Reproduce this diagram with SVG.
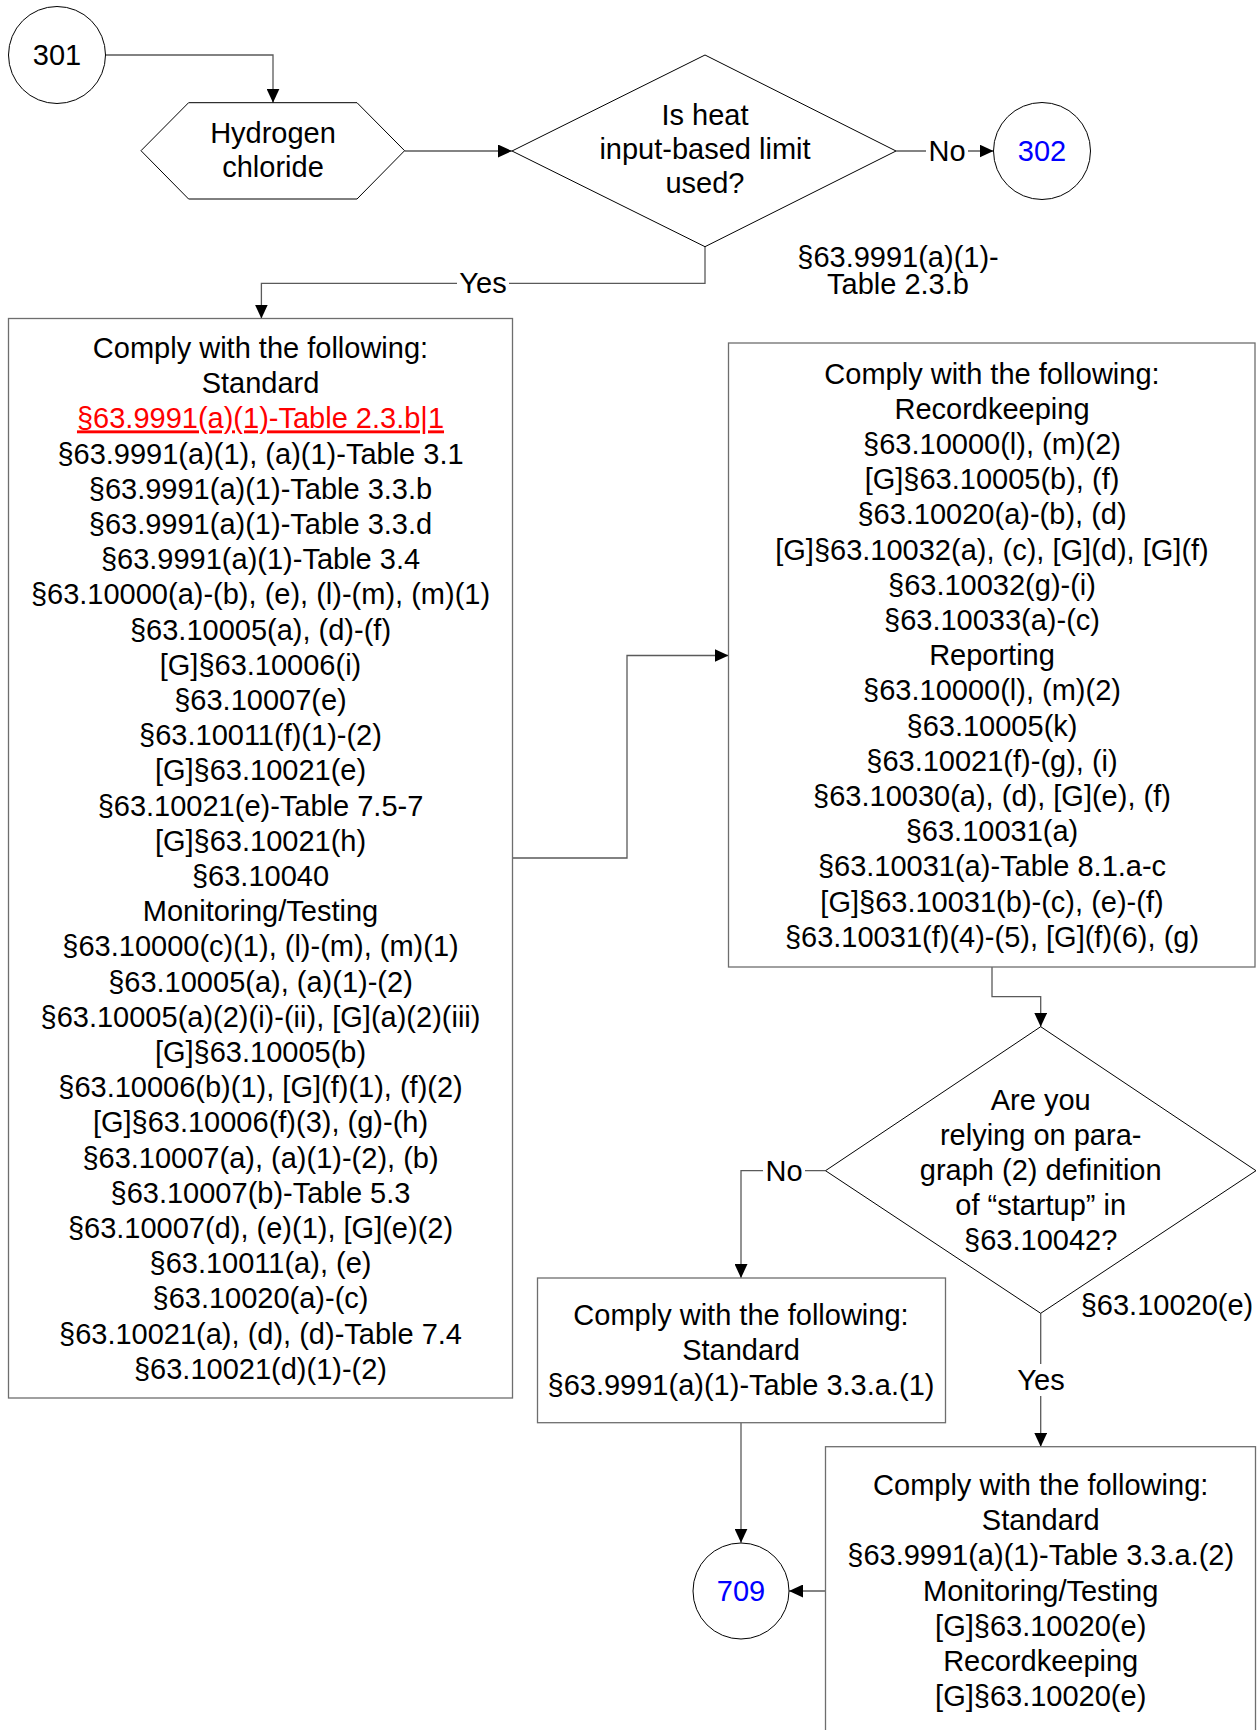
<svg xmlns="http://www.w3.org/2000/svg" width="1257" height="1730" viewBox="0 0 1257 1730">
<defs>
<marker id="arr" markerUnits="userSpaceOnUse" markerWidth="14" markerHeight="13" refX="14" refY="6.5" orient="auto">
<path d="M0,0 L14,6.5 L0,13 z" fill="#000"/>
</marker>
<style>
text{font-family:"Liberation Sans",Arial,sans-serif;font-size:29px;fill:#000;text-anchor:middle}
.shape{fill:#fff;stroke:#000;stroke-width:1}
.box{fill:#fff;stroke:#6e6e6e;stroke-width:1.3}
.conn{fill:none;stroke:#5a5a5a;stroke-width:1.3;marker-end:url(#arr)}
.lblbg{fill:#fff}
.blue{fill:#0000ff}
.red{fill:#ff0000;text-decoration:underline}
</style>
</defs>
<rect width="1257" height="1730" fill="#fff"/>

<g id="connectors">
<path class="conn" d="M105.5,55 H273 V102.7"/>
<path class="conn" d="M404.6,151 H512"/>
<path class="conn" d="M896,151 H993.5"/>
<path class="conn" d="M705,246.7 V283.3 H261.4 V318.5"/>
<path class="conn" d="M512.5,858 H627 V655.5 H728.5"/>
<path class="conn" d="M992,967 V996.7 H1040.7 V1026.7"/>
<path class="conn" d="M825.5,1170.7 H741 V1278"/>
<path class="conn" d="M1040.7,1313.3 V1446.7"/>
<path class="conn" d="M741,1422.7 V1542.7"/>
<path class="conn" d="M825.5,1591 H789"/>
<rect class="lblbg" x="926" y="136" width="42" height="30"/>
<text x="947" y="161">No</text>
<rect class="lblbg" x="457" y="268" width="52" height="30"/>
<text x="483" y="293">Yes</text>
<rect class="lblbg" x="763" y="1156" width="42" height="30"/>
<text x="784" y="1181">No</text>
<rect class="lblbg" x="1015" y="1364" width="52" height="32"/>
<text x="1041" y="1390">Yes</text>
</g>

<g id="n301">
<circle class="shape" cx="57" cy="55" r="48.5"/>
<text x="57" y="65">301</text>
</g>

<g id="hcl">
<polygon class="shape" points="141,150.7 188.6,102.7 357,102.7 404.6,150.7 357,199 188.6,199"/>
<text x="273" y="143">Hydrogen</text>
<text x="273" y="177">chloride</text>
</g>

<g id="q1">
<polygon class="shape" points="512,151 705,55 896,151 705,246.7"/>
<text x="705" y="125">Is heat</text>
<text x="705" y="159">input-based limit</text>
<text x="705" y="193">used?</text>
</g>

<g id="q1ref">
<text x="898" y="267">§63.9991(a)(1)-</text>
<text x="898" y="294">Table 2.3.b</text>
</g>

<g id="n302">
<circle class="shape" cx="1042" cy="151" r="48.5"/>
<text class="blue" x="1042" y="161">302</text>
</g>

<g id="box1">
<rect class="box" x="8.5" y="318.5" width="504" height="1079.5"/>
<text x="260.5" y="358">Comply with the following:</text>
<text x="260.5" y="393.2">Standard</text>
<text class="red" x="260.5" y="428.4">§63.9991(a)(1)-Table 2.3.b|1</text>
<text x="260.5" y="463.6">§63.9991(a)(1), (a)(1)-Table 3.1</text>
<text x="260.5" y="498.8">§63.9991(a)(1)-Table 3.3.b</text>
<text x="260.5" y="534">§63.9991(a)(1)-Table 3.3.d</text>
<text x="260.5" y="569.2">§63.9991(a)(1)-Table 3.4</text>
<text x="260.5" y="604.4">§63.10000(a)-(b), (e), (l)-(m), (m)(1)</text>
<text x="260.5" y="639.6">§63.10005(a), (d)-(f)</text>
<text x="260.5" y="674.8">[G]§63.10006(i)</text>
<text x="260.5" y="710">§63.10007(e)</text>
<text x="260.5" y="745.2">§63.10011(f)(1)-(2)</text>
<text x="260.5" y="780.4">[G]§63.10021(e)</text>
<text x="260.5" y="815.6">§63.10021(e)-Table 7.5-7</text>
<text x="260.5" y="850.8">[G]§63.10021(h)</text>
<text x="260.5" y="886">§63.10040</text>
<text x="260.5" y="921.2">Monitoring/Testing</text>
<text x="260.5" y="956.4">§63.10000(c)(1), (l)-(m), (m)(1)</text>
<text x="260.5" y="991.6">§63.10005(a), (a)(1)-(2)</text>
<text x="260.5" y="1026.8">§63.10005(a)(2)(i)-(ii), [G](a)(2)(iii)</text>
<text x="260.5" y="1062">[G]§63.10005(b)</text>
<text x="260.5" y="1097.2">§63.10006(b)(1), [G](f)(1), (f)(2)</text>
<text x="260.5" y="1132.4">[G]§63.10006(f)(3), (g)-(h)</text>
<text x="260.5" y="1167.6">§63.10007(a), (a)(1)-(2), (b)</text>
<text x="260.5" y="1202.8">§63.10007(b)-Table 5.3</text>
<text x="260.5" y="1238">§63.10007(d), (e)(1), [G](e)(2)</text>
<text x="260.5" y="1273.2">§63.10011(a), (e)</text>
<text x="260.5" y="1308.4">§63.10020(a)-(c)</text>
<text x="260.5" y="1343.6">§63.10021(a), (d), (d)-Table 7.4</text>
<text x="260.5" y="1378.8">§63.10021(d)(1)-(2)</text>
</g>

<g id="box2">
<rect class="box" x="728.5" y="343" width="526.5" height="624"/>
<text x="992" y="383.5">Comply with the following:</text>
<text x="992" y="418.7">Recordkeeping</text>
<text x="992" y="453.9">§63.10000(l), (m)(2)</text>
<text x="992" y="489.1">[G]§63.10005(b), (f)</text>
<text x="992" y="524.3">§63.10020(a)-(b), (d)</text>
<text x="992" y="559.5">[G]§63.10032(a), (c), [G](d), [G](f)</text>
<text x="992" y="594.7">§63.10032(g)-(i)</text>
<text x="992" y="629.9">§63.10033(a)-(c)</text>
<text x="992" y="665.1">Reporting</text>
<text x="992" y="700.3">§63.10000(l), (m)(2)</text>
<text x="992" y="735.5">§63.10005(k)</text>
<text x="992" y="770.7">§63.10021(f)-(g), (i)</text>
<text x="992" y="805.9">§63.10030(a), (d), [G](e), (f)</text>
<text x="992" y="841.1">§63.10031(a)</text>
<text x="992" y="876.3">§63.10031(a)-Table 8.1.a-c</text>
<text x="992" y="911.5">[G]§63.10031(b)-(c), (e)-(f)</text>
<text x="992" y="946.7">§63.10031(f)(4)-(5), [G](f)(6), (g)</text>
</g>

<g id="q2">
<polygon class="shape" points="825.5,1170.7 1040.7,1026.7 1256,1170.7 1040.7,1313.3"/>
<text x="1040.7" y="1109.6">Are you</text>
<text x="1040.7" y="1144.8">relying on para-</text>
<text x="1040.7" y="1180">graph (2) definition</text>
<text x="1040.7" y="1215.2">of “startup” in</text>
<text x="1040.7" y="1250.4">§63.10042?</text>
</g>

<g id="q2ref">
<text x="1167" y="1315">§63.10020(e)</text>
</g>

<g id="box3">
<rect class="box" x="537.5" y="1278" width="408" height="144.7"/>
<text x="741" y="1324.8">Comply with the following:</text>
<text x="741" y="1360">Standard</text>
<text x="741" y="1395.2">§63.9991(a)(1)-Table 3.3.a.(1)</text>
</g>

<g id="box4">
<rect class="box" x="825.5" y="1446.7" width="430" height="300"/>
<text x="1040.7" y="1495">Comply with the following:</text>
<text x="1040.7" y="1530.2">Standard</text>
<text x="1040.7" y="1565.4">§63.9991(a)(1)-Table 3.3.a.(2)</text>
<text x="1040.7" y="1600.6">Monitoring/Testing</text>
<text x="1040.7" y="1635.8">[G]§63.10020(e)</text>
<text x="1040.7" y="1671">Recordkeeping</text>
<text x="1040.7" y="1706.2">[G]§63.10020(e)</text>
</g>

<g id="n709">
<circle class="shape" cx="741" cy="1591" r="48"/>
<text class="blue" x="741" y="1601">709</text>
</g>
</svg>
